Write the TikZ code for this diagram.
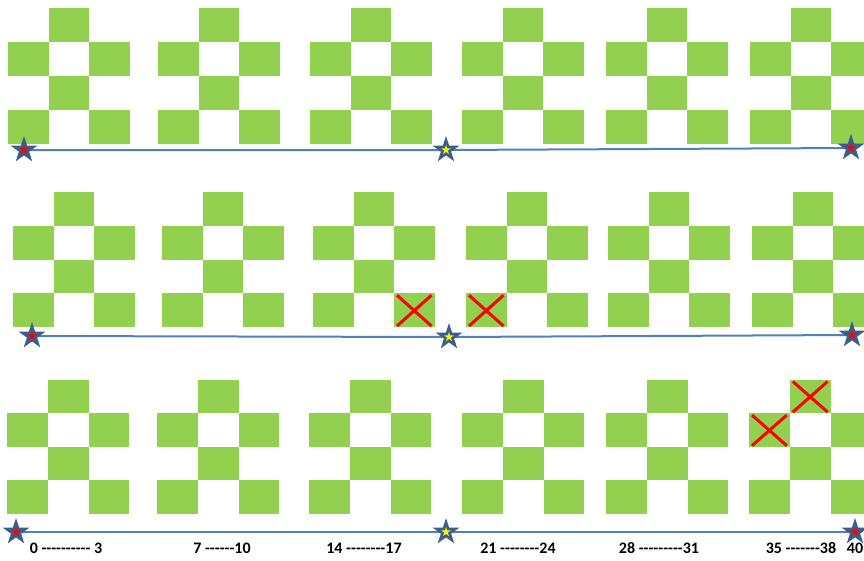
\documentclass[tikz,border=0pt]{standalone}
\usepackage{fontspec}
\newfontfamily\labfont{Carlito}
\usetikzlibrary{shapes.geometric,backgrounds}
\definecolor{leaf}{HTML}{92D050}
\definecolor{track}{RGB}{79,129,189}
\definecolor{starblue}{RGB}{59,94,140}
\tikzset{
  sq/.style={fill=leaf},
  bigstar/.style={star,star points=5,star point ratio=2.6,minimum size=28pt,inner sep=0pt,fill=starblue},
  tinystar/.style={star,star points=5,star point ratio=2.6,minimum size=10pt,inner sep=0pt},
  trackline/.style={draw=track,line width=2pt},
  xmark/.style={draw=red,line width=3pt},
  lab/.style={font=\labfont\bfseries\fontsize{16}{19}\selectfont,inner sep=0pt}
}
% pattern: left x, top y, cell width, cell height
\newcommand\pat[4]{\foreach \c/\r in {1/0,0/1,2/1,1/2,0/3,2/3}{\fill[sq] ({#1+\c*#3},{#2+\r*#4}) rectangle ++(#3,#4);}}
% cross on a cell: left x, top y, w, h
\newcommand\xcross[4]{%
  \draw[xmark] ({#1+3},{#2+2}) -- ({#1+#3-3},{#2+#4-1});
  \draw[xmark] ({#1+#3-3},{#2+2}) -- ({#1+3},{#2+#4-1});}
\newcommand\hyn[1]{\foreach \i in {1,...,#1}{-\kern0pt}}
\begin{document}
\begin{tikzpicture}[x=1pt,y=-1pt]
\useasboundingbox (0,0) rectangle (864,560);
\clip (0,0) rectangle (864,560);
% row 1
\foreach \L in {8,158,310,462,606,750}{\pat{\L}{8}{40.7}{34}}
% row 2
\foreach \L in {13,162,313,466,608,752}{\pat{\L}{192}{40.5}{33.75}}
% row 3
\foreach \L in {7,157,309,462,606,749}{\pat{\L}{379.5}{40.8}{33.6}}
% crosses
\xcross{394}{293.25}{40.5}{33.75}
\xcross{466}{293.25}{40.5}{33.75}
\xcross{789.8}{379.5}{40.8}{33.6}
\xcross{749}{413.1}{40.8}{33.6}
% stars
\node[bigstar] (a1) at (24,150) {};
\node[bigstar] (b1) at (446,150) {};
\node[bigstar] (c1) at (851,148) {};
\node[bigstar] (a2) at (32,336) {};
\node[bigstar] (b2) at (449,337) {};
\node[bigstar] (c2) at (852,335) {};
\node[bigstar] (a3) at (16,532) {};
\node[bigstar] (b3) at (446,532) {};
\node[bigstar] (c3) at (855,532) {};
\foreach \s in {a1,c1,a2,c2,a3,c3}{\node[tinystar,fill=red] at (\s.center) {};}
\foreach \s in {b1,b2,b3}{\node[tinystar,fill=yellow] at (\s.center) {};}
\begin{scope}[on background layer]
  \draw[trackline] (a1.center) -- (b1.center) -- (c1.center);
  \draw[trackline] (a2.center) -- (b2.center) -- (c2.center);
  \draw[trackline] (a3.center) -- (b3.center) -- (c3.center);
\end{scope}
% labels
\node[lab] (l1) at (66,548) {0 \hyn{10} 3};
\node[lab] (l2) at (222,548) {7 \hyn{6}10};
\node[lab] (l3) at (364,548) {14 \hyn{8}17};
\node[lab] (l4) at (518,548) {21 \hyn{8}24};
\node[lab] (l5) at (659,548) {28 \hyn{9}31};
\node[lab] (l6) at (801,548) {35 \hyn{7}38};
\node[lab] (l7) at (855,548) {40};
\end{tikzpicture}
\end{document}
